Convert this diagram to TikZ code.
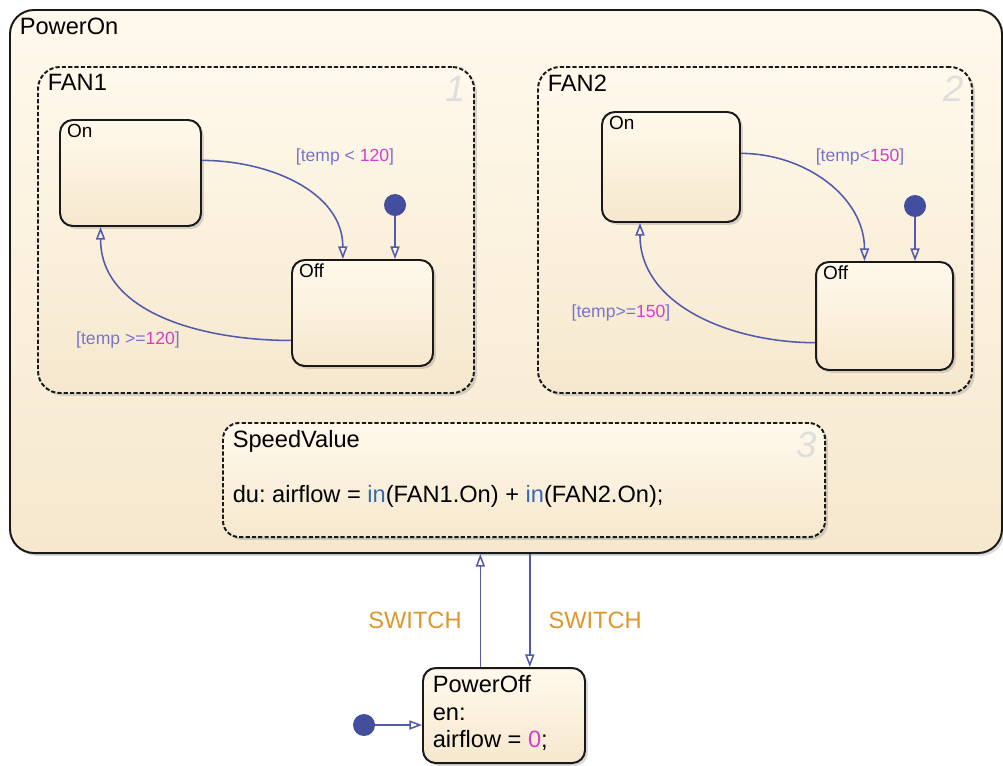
\documentclass[tikz,border=0pt]{standalone}
\usepackage{fontspec}
\setmainfont{Liberation Sans}
\usepackage{tikz}
\usetikzlibrary{fit,positioning,shadows,arrows.meta}

\definecolor{creamtop}{RGB}{255,249,236}
\definecolor{creambot}{RGB}{246,232,206}
\definecolor{transblue}{RGB}{82,90,172}
\definecolor{dotblue}{RGB}{68,78,158}
\definecolor{guardblue}{RGB}{118,118,200}
\definecolor{guardnum}{RGB}{215,60,205}
\definecolor{fnblue}{RGB}{55,108,172}
\definecolor{eventorange}{RGB}{222,150,42}
\definecolor{ordergray}{RGB}{222,222,222}
\frenchspacing

\begin{document}
\begin{tikzpicture}[
  x=0.025cm, y=0.025cm,
  every node/.style={font=\fontsize{16.8}{19.6}\selectfont},
  chart/.style={draw=black!90, line width=1.4pt, inner sep=0pt, top color=creamtop, bottom color=creambot,
    drop shadow={shadow xshift=2pt, shadow yshift=-2pt, opacity=0.3}},
  super/.style={chart, rounded corners=0.6cm},
  parallel/.style={chart, rounded corners=0.55cm, dash pattern=on 3pt off 1.5pt},
  leaf/.style={chart, rounded corners=0.32cm},
  title/.style={anchor=north west, inner xsep=7.5pt, inner ysep=6pt, align=left},
  subtitle/.style={anchor=north west, inner xsep=5.5pt, inner ysep=3.5pt, font=\fontsize{13.5}{15}\selectfont},
  order/.style={anchor=north east, inner xsep=6pt, inner ysep=7pt, text=ordergray, font=\fontsize{26}{30}\selectfont\itshape},
  junction/.style={circle, fill=dotblue, minimum size=0.55cm, inner sep=0pt},
  trans/.style={draw=transblue, line width=1.1pt, -{Triangle[open, length=9pt, width=6.5pt]}},
  guard/.style={inner sep=0pt, text=guardblue, font=\fontsize{12.5}{15}\selectfont},
  event/.style={inner sep=0pt, text=eventorange}
]
\useasboundingbox (0,0) rectangle (1003,-765);
\node[super, fit={(10,-10) (1002,-553)}, label={[title]north west:PowerOn}] (pon) {};
\node[parallel, fit={(38,-67) (474,-393)}, label={[title]north west:FAN1}, label={[order]north east:1}] (fan1) {};
\node[parallel, fit={(538,-67) (972,-393)}, label={[title]north west:FAN2}, label={[order]north east:2}] (fan2) {};
\node[parallel, rounded corners=0.4cm, fit={(223,-423) (825,-537)},
  label={[title]north west:{SpeedValue\\[19.6pt]du: airflow = \textcolor{fnblue}{in}(FAN1.On) + \textcolor{fnblue}{in}(FAN2.On);}},
  label={[order]north east:3}] (speed) {};

\node[leaf, fit={(60,-120) (201,-226)}, label={[subtitle]north west:On}] (on1) {};
\node[leaf, fit={(292,-260) (433,-366)}, label={[subtitle]north west:Off}] (off1) {};
\node[leaf, fit={(602,-112) (740,-222)}, label={[subtitle]north west:On}] (on2) {};
\node[leaf, fit={(816,-262) (953,-370)}, label={[subtitle]north west:Off}] (off2) {};
\node[leaf, fit={(423,-668) (585,-763)},
  label={[title]north west:{PowerOff\\en:\\airflow = \textcolor{guardnum}{0};}}] (poff) {};

\node[junction] (init1) at (395,-205) {};
\node[junction] (init2) at (915,-206) {};
\node[junction] (init3) at (364,-725) {};

\draw[trans] (on1.10) to[out=0, in=90] (off1.110);
\draw[trans] (off1.201) to[out=180, in=-90] (on1.241);
\draw[trans] (on2.11) to[out=0, in=90] (off2.110);
\draw[trans] (off2.201) to[out=180, in=-90] (on2.241);
\draw[trans] (init1) -- (init1 |- off1.north);
\draw[trans] (init2) -- (init2 |- off2.north);
\draw[trans] (init3) -- (init3 -| poff.west);
\draw[trans] (poff.116) -- (poff.116 |- pon.south) node[event, pos=0.41, left=0.45cm] {SWITCH};
\draw[trans] (pon.south -| poff.62) -- (poff.62) node[event, pos=0.59, right=0.45cm] {SWITCH};

\node[guard] (g1) at (345,-157) {[temp < \textcolor{guardnum}{120}]};
\node[guard] (g2) at (128,-340) {[temp >=\textcolor{guardnum}{120}]};
\node[guard] (g3) at (860,-157) {[temp<\textcolor{guardnum}{150}]};
\node[guard] (g4) at (621,-313) {[temp>=\textcolor{guardnum}{150}]};
\end{tikzpicture}
\end{document}
